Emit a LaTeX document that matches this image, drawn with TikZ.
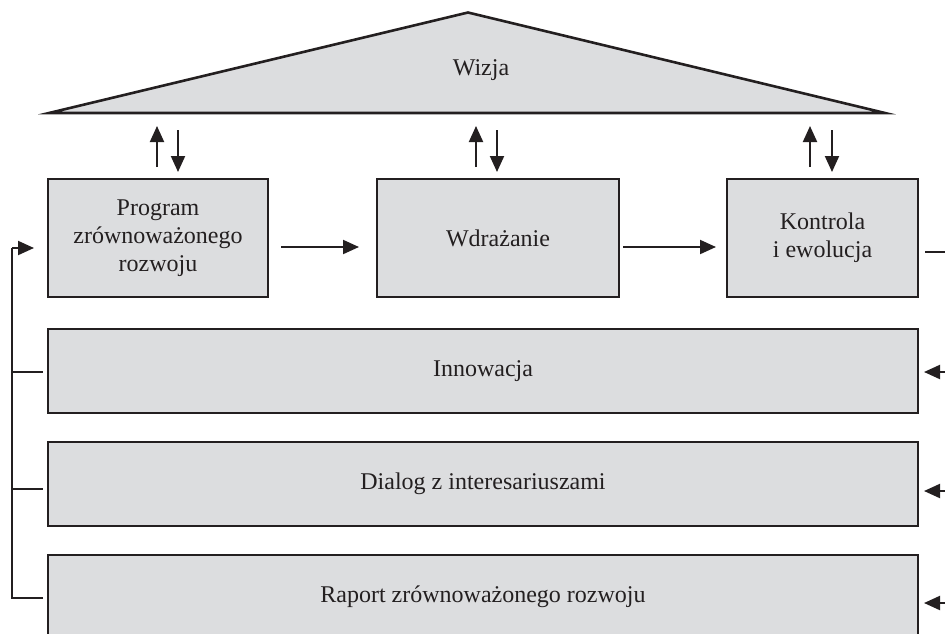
\documentclass[tikz,border=0pt]{standalone}
\usepackage{fontspec}
\setmainfont{Liberation Serif}
\usetikzlibrary{arrows.meta}
\definecolor{boxgray}{HTML}{DCDDDF}
\definecolor{ink}{HTML}{231F20}
\begin{document}
\begin{tikzpicture}[x=1pt,y=-1pt,
  every node/.style={font=\fontsize{24}{28}\selectfont, text=ink},
  stagebox/.style={draw=ink, line width=2.6pt, fill=boxgray, rectangle, inner sep=0pt, align=center},
  arr/.style={draw=ink, line width=2pt, -{Triangle[length=16pt,width=14pt]}},
  ln/.style={draw=ink, line width=2pt}]
\useasboundingbox (0,0) rectangle (945,633);
\clip (0,0) rectangle (945,633);
% roof
\filldraw[fill=boxgray, draw=ink, line width=2.6pt, line join=miter] (49,113) -- (468,12.5) -- (885,113) -- cycle;
\node (wizja) at (481,70) {Wizja};
% top boxes
\node[stagebox, minimum width=220pt, minimum height=118pt] (prog) at (158,238) {Program\\zrównoważonego\\rozwoju};
\node[stagebox, minimum width=242pt, minimum height=118pt] (wdr) at (498,238) {Wdrażanie};
\node[stagebox, minimum width=191pt, minimum height=118pt] (kon) at (822.5,238) {Kontrola\\i ewolucja};
% long boxes
\node[stagebox, minimum width=870pt, minimum height=84pt] (inn) at (483,371) {Innowacja};
\node[stagebox, minimum width=870pt, minimum height=84pt] (dia) at (483,484) {Dialog z interesariuszami};
\node[stagebox, minimum width=870pt, minimum height=84pt] (rap) at (483,597) {Raport zrównoważonego rozwoju};
% up/down arrows
\coordinate (u1a) at (157,167); \coordinate (u1b) at (157,126);
\coordinate (d1a) at (178,130); \coordinate (d1b) at (178,172);
\coordinate (u2a) at (476,167); \coordinate (u2b) at (476,126);
\coordinate (d2a) at (497,130); \coordinate (d2b) at (497,172);
\coordinate (u3a) at (810,167); \coordinate (u3b) at (810,126);
\coordinate (d3a) at (832,130); \coordinate (d3b) at (832,172);
\draw[arr] (u1a) -- (u1b); \draw[arr] (d1a) -- (d1b);
\draw[arr] (u2a) -- (u2b); \draw[arr] (d2a) -- (d2b);
\draw[arr] (u3a) -- (u3b); \draw[arr] (d3a) -- (d3b);
% horizontal flow arrows
\coordinate (h1a) at (281,247); \coordinate (h1b) at (359,247);
\coordinate (h2a) at (623,247); \coordinate (h2b) at (716,247);
\draw[arr] (h1a) -- (h1b);
\draw[arr] (h2a) -- (h2b);
% right side
\coordinate (r0a) at (925,252); \coordinate (r0b) at (946,252);
\draw[ln] (r0a) -- (r0b);
\coordinate (r1a) at (946,372); \coordinate (r1b) at (924,372);
\coordinate (r2a) at (946,491); \coordinate (r2b) at (924,491);
\coordinate (r3a) at (946,603); \coordinate (r3b) at (924,603);
\draw[arr] (r1a) -- (r1b);
\draw[arr] (r2a) -- (r2b);
\draw[arr] (r3a) -- (r3b);
% left feedback
\coordinate (lv) at (12,248); \coordinate (lt) at (34,248);
\coordinate (l1) at (12,372); \coordinate (l1e) at (43,372);
\coordinate (l2) at (12,489); \coordinate (l2e) at (43,489);
\coordinate (l3) at (12,598); \coordinate (l3e) at (43,598);
\draw[ln] (l3e) -- (l3) -- (lv);
\draw[arr] (lv) -- (lt);
\draw[ln] (l1) -- (l1e);
\draw[ln] (l2) -- (l2e);
\end{tikzpicture}
\end{document}
